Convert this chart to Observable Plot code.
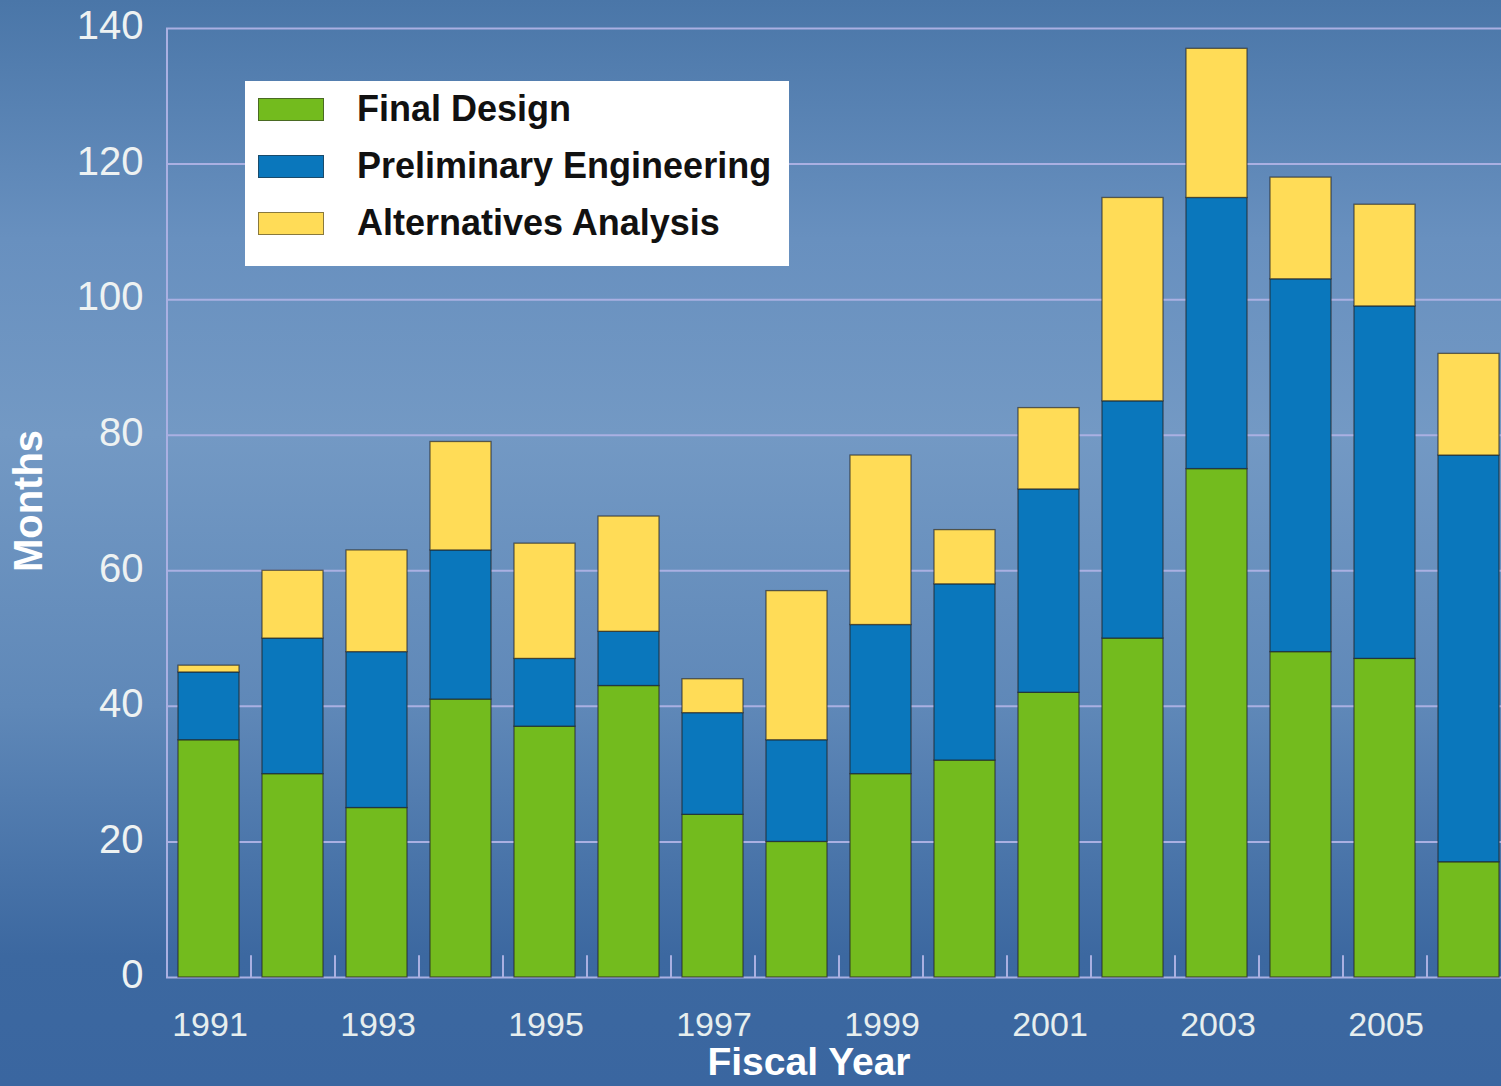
<!DOCTYPE html>
<html>
<head>
<meta charset="utf-8">
<script src="https://cdn.jsdelivr.net/npm/d3@7"></script>
<script src="https://cdn.jsdelivr.net/npm/@observablehq/plot@0.6"></script>
<style>
  html, body { margin: 0; padding: 0; overflow: hidden; }
  body {
    width: 1501px; height: 1086px; position: relative;
    background: linear-gradient(to bottom, #4a76a8 0%, #6890bf 22%, #7399c4 40%, #5f88b8 65%, #3c68a0 88%, #3a66a0 100%);
    font-family: "Liberation Sans", Arial, sans-serif;
  }
  #chart { position: absolute; left: 0; top: 0; }
  #chart svg { background: transparent; overflow: visible; }
  .legend {
    position: absolute; left: 245px; top: 81px; width: 544px; height: 185px;
    background: #ffffff; box-sizing: border-box;
    font-family: "Liberation Sans", Arial, sans-serif; font-weight: bold; font-size: 36px; color: #111;
  }
  .legend .row { position: absolute; left: 0; height: 40px; }
  .legend .sw { position: absolute; left: 13px; width: 66px; height: 23px; box-sizing: border-box; border: 1.5px solid rgba(40,40,40,0.55); }
  .legend .lab { position: absolute; left: 112px; white-space: nowrap; line-height: 40px; }
  .ylab {
    position: absolute; left: 28px; top: 501px; transform: translate(-50%, -50%) rotate(-90deg);
    color: #ffffff; font-weight: bold; font-size: 40px; white-space: nowrap;
  }
  .xlab {
    position: absolute; left: 809px; top: 1043px; transform: translateX(-50%);
    color: #ffffff; font-weight: bold; font-size: 39px; white-space: nowrap; line-height: 38px;
  }
</style>
</head>
<body>
<div id="chart"></div>
<div class="ylab">Months</div>
<div class="xlab">Fiscal Year</div>
<div class="legend" id="legend"></div>
<script>
// Months spent in each project phase, by fiscal year
const years = [1991, 1992, 1993, 1994, 1995, 1996, 1997, 1998, 1999, 2000, 2001, 2002, 2003, 2004, 2005, 2006];
const finalDesign = [35, 30, 25, 41, 37, 43, 24, 20, 30, 32, 42, 50, 75, 48, 47, 17];
const preliminaryEngineering = [10, 20, 23, 22, 10, 8, 15, 15, 22, 26, 30, 35, 40, 55, 52, 60];
const alternativesAnalysis = [1, 10, 15, 16, 17, 17, 5, 22, 25, 8, 12, 30, 22, 15, 15, 15];

const phases = ["Final Design", "Preliminary Engineering", "Alternatives Analysis"];
const phaseColors = ["#73bb1e", "#0a77bc", "#ffdc57"];
const yTicks = [0, 20, 40, 60, 80, 100, 120, 140];
const xTickYears = [1991, 1993, 1995, 1997, 1999, 2001, 2003, 2005];

// Long table, stacked bottom-to-top in phase order
const series = [finalDesign, preliminaryEngineering, alternativesAnalysis];
const rows = [];
years.forEach((year, i) => {
  phases.forEach((phase, k) => rows.push({year, phase, months: series[k][i]}));
});

const grid = "#aab0e2";

const chart = Plot.plot({
  width: 1501,
  height: 1086,
  marginTop: 28,
  marginBottom: 109,
  marginLeft: 166,
  marginRight: -9,
  style: {background: "transparent", overflow: "visible"},
  x: {type: "band", domain: years, paddingInner: 0.274, paddingOuter: 0.137, label: null},
  y: {domain: [0, 140], label: null},
  color: {domain: phases, range: phaseColors},
  marks: [
    Plot.ruleY(yTicks, {stroke: grid, strokeWidth: 2}),
    Plot.ruleX([years[0]], {dx: -42, y1: 0, y2: 140, stroke: grid, strokeWidth: 2}),
    Plot.ruleX(years.slice(0, -1), {dx: 42, y1: 0, y2: 3.2, stroke: grid, strokeWidth: 2}),
    Plot.barY(rows, Plot.stackY({
      x: "year", y: "months", z: "phase", fill: "phase", order: phases,
      stroke: "#222222", strokeOpacity: 0.65, strokeWidth: 1.3
    })),
    Plot.axisY({
      ticks: yTicks, tickSize: 0, tickPadding: 23, label: null,
      fontSize: 40, fill: "#eef2f2", dy: -2,
      fontFamily: "Liberation Sans, Arial, sans-serif"
    }),
    Plot.axisX({
      ticks: xTickYears, tickSize: 0, tickPadding: 34, label: null,
      fontSize: 34, fill: "#e6eeee", tickFormat: d => String(d), dx: 1,
      fontFamily: "Liberation Sans, Arial, sans-serif"
    })
  ]
});
document.getElementById("chart").append(chart);

// Legend box
const legend = document.getElementById("legend");
const rowCenters = [28, 85, 142];
phases.forEach((phase, k) => {
  const row = document.createElement("div");
  row.className = "row";
  row.style.top = (rowCenters[k] - 20) + "px";
  row.style.width = "100%";
  const sw = document.createElement("div");
  sw.className = "sw";
  sw.style.background = phaseColors[k];
  sw.style.top = "9px";
  const lab = document.createElement("div");
  lab.className = "lab";
  lab.style.top = "0px";
  lab.textContent = phase;
  row.append(sw, lab);
  legend.append(row);
});
</script>
</body>
</html>
